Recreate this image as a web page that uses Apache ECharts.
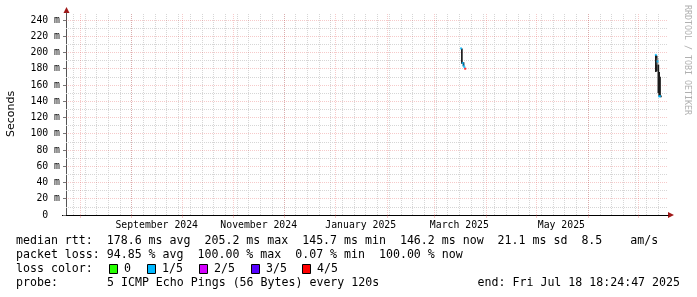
<!DOCTYPE html>
<html><head><meta charset="utf-8">
<script src="https://cdn.jsdelivr.net/npm/echarts@6/dist/echarts.min.js"></script>
<style>html,body{margin:0;padding:0;background:#fff}#c{width:697px;height:297px}</style>
</head><body><div id="c"></div>
<script>
// ---------- data ----------
const startTime = '2024-07-23 18:24:47';
const endTime = '2025-07-18 18:24:47';
const yMax = 248.6;
const yTickValues = [0, 20, 40, 60, 80, 100, 120, 140, 160, 180, 200, 220, 240];
const yMinorValues = [10, 30, 50, 70, 90, 110, 130, 150, 170, 190, 210, 230];
const monthStarts = ['2024-08-01','2024-09-01','2024-10-01','2024-11-01','2024-12-01','2025-01-01',
  '2025-02-01','2025-03-01','2025-04-01','2025-05-01','2025-06-01','2025-07-01'];
const firstWeekStart = '2024-07-28';
const xLabelDates = ['2024-09-16','2024-11-16','2025-01-16','2025-03-16','2025-05-16'];
const xLabelTexts = ['September 2024','November 2024','January 2025','March 2025','May 2025'];

// median rtt (ms, shown as "m" seconds), loss index = lost pings of 5
const medianTimes = ['2025-03-17 00:00','2025-03-18 00:00','2025-03-18 12:00','2025-03-19 00:00','2025-03-19 12:00',
  '2025-07-11 12:00','2025-07-12 12:00','2025-07-13 12:00','2025-07-14 00:00'];
const medianValues = [205, 187, 184, 182, 180, 197, 189, 146, 146.2];
const medianLoss = [1, 1, 1, 1, 4, 1, 1, 1, 1];

// smoke (ping spread)
const smokeTimes = ['2025-03-17 12:00','2025-03-18 12:00',
  '2025-07-11 12:00','2025-07-12 00:00','2025-07-12 12:00','2025-07-13 00:00','2025-07-13 12:00','2025-07-14 00:00','2025-07-14 12:00'];
const smokeLow  = [186, 183, 176, 177, 185, 150, 146, 146, 145];
const smokeHigh = [205, 188, 197, 196, 193, 185, 176, 170, 147];
const smokeShade = [0, 0, 0, 0, 1, 0, 0, 0, 0];

const lossLabels = ['0', '1/5', '2/5', '3/5', '4/5'];
const statsRtt = ['178.6 ms avg', '205.2 ms max', '145.7 ms min', '146.2 ms now', '21.1 ms sd', '8.5    am/s'];
const statsLoss = ['94.85 % avg', '100.00 % max', '0.07 % min', '100.00 % now'];
const probeText = '5 ICMP Echo Pings (56 Bytes) every 120s';
const endText = 'end: Fri Jul 18 18:24:47 2025';

// ---------- styles ----------
const lossColors = ['#26ff00', '#00b8ff', '#d400ff', '#5500ff', '#ff0000'];
const smokeColors = ['#1b1b1b', '#8a8a8a'];
const MONO = '"DejaVu Sans Mono", monospace';
const majorGrid = 'rgba(225,80,80,0.3)';
const minorGrid = '#d6d6d6';

function ts(s) {
  const parts = s.split(' ');
  const d = parts[0].split('-').map(Number);
  const t = (parts[1] || '00:00:00').split(':').map(Number);
  return new Date(d[0], d[1] - 1, d[2], t[0], t[1], t[2] || 0).getTime();
}
const startTs = ts(startTime), endTs = ts(endTime);
const stepMs = 12 * 3600 * 1000;

const weekTs = [];
{
  const d = new Date(ts(firstWeekStart));
  while (d.getTime() < endTs) { weekTs.push(d.getTime()); d.setDate(d.getDate() + 7); }
}
const monthTs = monthStarts.map(ts);
const xLabelTs = xLabelDates.map(ts);

const medianData = medianTimes.map((t, i) => [ts(t), medianValues[i], medianLoss[i]]);
const smokeData = smokeTimes.map((t, i) => [ts(t), smokeLow[i], smokeHigh[i], smokeShade[i]]);

const chart = echarts.init(document.getElementById('c'), null, {renderer: 'canvas'});

const lineRtt = 'median rtt:  ' + statsRtt.join('  ');
const lineLoss = 'packet loss: ' + statsLoss.join('  ');
const F = '11.6px ' + MONO;

const boxX = [109, 147, 199, 251, 302];
const graphics = [
  {type:'text', x:16, y:241, style:{text:lineRtt, font:F, fill:'#000', verticalAlign:'middle'}},
  {type:'text', x:16, y:255, style:{text:lineLoss, font:F, fill:'#000', verticalAlign:'middle'}},
  {type:'text', x:16, y:269, style:{text:'loss color:', font:F, fill:'#000', verticalAlign:'middle'}},
  {type:'text', x:16, y:283, style:{text:'probe:', font:F, fill:'#000', verticalAlign:'middle'}},
  {type:'text', x:107, y:283, style:{text:probeText, font:F, fill:'#000', verticalAlign:'middle'}},
  {type:'text', x:680, y:283, style:{text:endText, font:F, fill:'#000', align:'right', verticalAlign:'middle'}},
  {type:'text', x:691, y:5, rotation:-Math.PI/2, style:{text:'RRDTOOL / TOBI OETIKER', font:'8.3px ' + MONO, fill:'#b0b0b0', verticalAlign:'top'}},
  {type:'polygon', shape:{points:[[66.5,7],[63.5,13],[69.5,13]]}, style:{fill:'#a01818'}},
  {type:'polygon', shape:{points:[[674,215],[668,212],[668,218]]}, style:{fill:'#a01818'}},
  {type:'line', shape:{x1:62, y1:215.5, x2:67, y2:215.5}, style:{stroke:'#000', lineWidth:1}}
];
lossLabels.forEach((lab, i) => {
  graphics.push({type:'rect', shape:{x:boxX[i] + 0.5, y:264.5, width:8, height:9}, style:{fill:lossColors[i], stroke:'#000', lineWidth:1}});
  graphics.push({type:'text', x:boxX[i] + 15, y:269, style:{text:lab, font:F, fill:'#000', verticalAlign:'middle'}});
});

chart.setOption({
  animation: false,
  backgroundColor: '#fff',
  grid: {left: 66, right: 29, top: 13, bottom: 82, containLabel: false, outerBoundsMode: 'none'},
  xAxis: {
    type: 'value', min: startTs, max: endTs, scale: true,
    axisLine: {show: true, lineStyle: {color: '#000', width: 1}},
    axisTick: {show: true, customValues: monthTs, length: 3, lineStyle: {color: majorGrid}},
    axisLabel: {
      show: true, customValues: xLabelTs, margin: 5, hideOverlap: false,
      fontFamily: MONO, fontSize: 9.8, color: '#000',
      formatter: (v) => { const i = xLabelTs.indexOf(v); return i >= 0 ? xLabelTexts[i] : ''; }
    },
    splitLine: {show: false}, minorTick: {show: false}
  },
  yAxis: {
    type: 'value', min: 0, max: yMax,
    name: 'Seconds', nameLocation: 'middle', nameGap: 49, nameRotate: 90,
    nameTextStyle: {fontFamily: '"DejaVu Sans"', fontSize: 11, color: '#000'},
    axisLine: {show: true, lineStyle: {color: '#555', width: 1}},
    axisTick: {show: true, customValues: yTickValues, length: 3, lineStyle: {color: '#777'}},
    axisLabel: {
      show: true, customValues: yTickValues, margin: 6,
      fontFamily: MONO, fontSize: 9.8, color: '#000',
      formatter: (v) => v === 0 ? '0  ' : v + ' m'
    },
    splitLine: {show: false}
  },
  series: [
    {
      type: 'line', data: [], z: 1, silent: true,
      markLine: {
        silent: true, symbol: ['none', 'none'], label: {show: false}, animation: false,
        lineStyle: {color: minorGrid, type: [1, 1], width: 1},
        emphasis: {disabled: true},
        data: weekTs.map(t => ({xAxis: t})).concat(yMinorValues.map(v => ({yAxis: v})))
      }
    },
    {
      type: 'line', data: [], z: 2, silent: true,
      markLine: {
        silent: true, symbol: ['none', 'none'], label: {show: false}, animation: false,
        lineStyle: {color: majorGrid, type: [1, 1], width: 1},
        emphasis: {disabled: true},
        data: monthTs.map(t => ({xAxis: t})).concat(yTickValues.filter(v => v > 0).map(v => ({yAxis: v})))
      }
    },
    {
      type: 'custom', z: 5, silent: true,
      encode: {x: 0, y: [1, 2]},
      data: smokeData,
      renderItem: (params, api) => {
        const t = api.value(0), lo = api.value(1), hi = api.value(2), sh = api.value(3);
        const p1 = api.coord([t, hi]), p2 = api.coord([t, lo]);
        const w = api.size([stepMs * 2, 0])[0];
        return {type: 'rect', shape: {x: p1[0] - w / 2, y: p1[1], width: w, height: p2[1] - p1[1]},
          style: {fill: smokeColors[sh]}};
      }
    },
    {
      type: 'scatter', z: 6, silent: true,
      symbol: 'rect', symbolSize: [2, 2],
      data: medianData,
      itemStyle: {color: (p) => lossColors[p.value[2]]}
    }
  ],
  graphic: graphics
});
</script></body></html>
